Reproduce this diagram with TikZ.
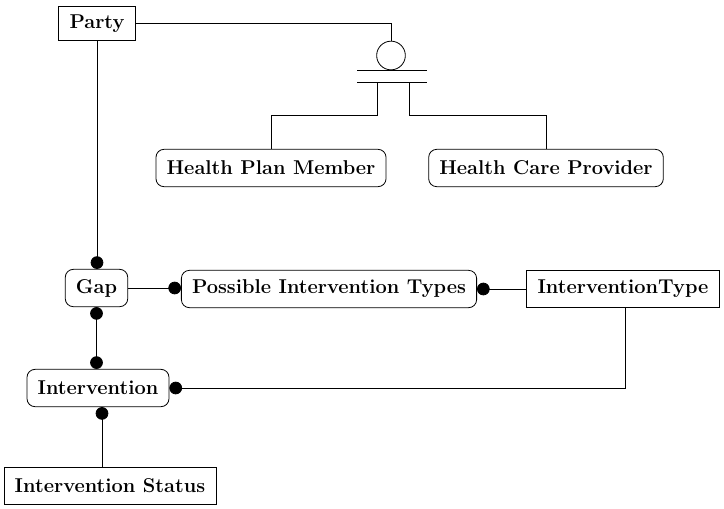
\documentclass[tikz,border=0pt]{standalone}
\usepackage{tikz}
\usetikzlibrary{arrows.meta}
\newcommand{\bars}[3]{  % 1 x-centre, 2 y of upper bar, 3 half width
        \draw (#1-#3, #2) -- (#1+#3, #2);
        \draw (#1-#3, #2+12) -- (#1+#3, #2+12);%lower bar
}
\begin{document}
\begin{tikzpicture}[x=0.75pt, y=-0.75pt, line width=0.6pt,
    entity/.style={draw, font=\fontsize{15}{17}\selectfont\bfseries,
        inner xsep=8pt, minimum height=28pt},
    roundent/.style={entity, rounded corners=6pt},
    dotend/.style={-{Circle[length=9.5pt]}},
    dotstart/.style={{Circle[length=9.5pt]}-},
    dotboth/.style={{Circle[length=9.5pt]}-{Circle[length=9.5pt]}}]
    \useasboundingbox (0,0) rectangle (724,508);
    % nodes
    \node[entity, minimum height=26pt] (party) at (97,23.5) {Party};
    \node[draw, circle, minimum size=21.5pt, inner sep=0pt] (sub) at (391,55.5) {};
    \bars{392}{70}{35}
    \node[roundent] (member) at (271,168) {Health Plan Member};
    \node[roundent] (provider) at (546,168) {Health Care Provider};
    \node[roundent] (gap) at (96.5,288) {Gap};
    \node[roundent] (types) at (329,289) {Possible Intervention Types};
    \node[entity] (itype) at (623,289) {InterventionType};
    \node[roundent] (interv) at (98,388) {Intervention};
    \node[entity] (status) at (110,486) {Intervention Status};
    \coordinate (memberjoin) at (377,82);
    \coordinate (providerjoin) at (409,82);
    % connectors
    \draw (party.east) -| (sub.north);
    \draw (memberjoin) -- ++(0,33) -| (member.north);
    \draw (providerjoin) -- ++(0,33) -| (provider.north);
    \draw[dotend] (party.south) -- (party.south |- gap.north);
    \draw[dotend] (gap.east) -- (gap.east -| types.west);
    \draw[dotstart] (types.east) -- (types.east -| itype.west);
    \draw[dotboth] (gap.south) -- (gap.south |- interv.north);
    \draw[dotend] ([xshift=1.5pt]itype.south) |- (interv.east);
    \draw[dotstart] ([xshift=3pt]interv.south) -- ([xshift=3pt]interv.south |- status.north);
\end{tikzpicture}
\end{document}
